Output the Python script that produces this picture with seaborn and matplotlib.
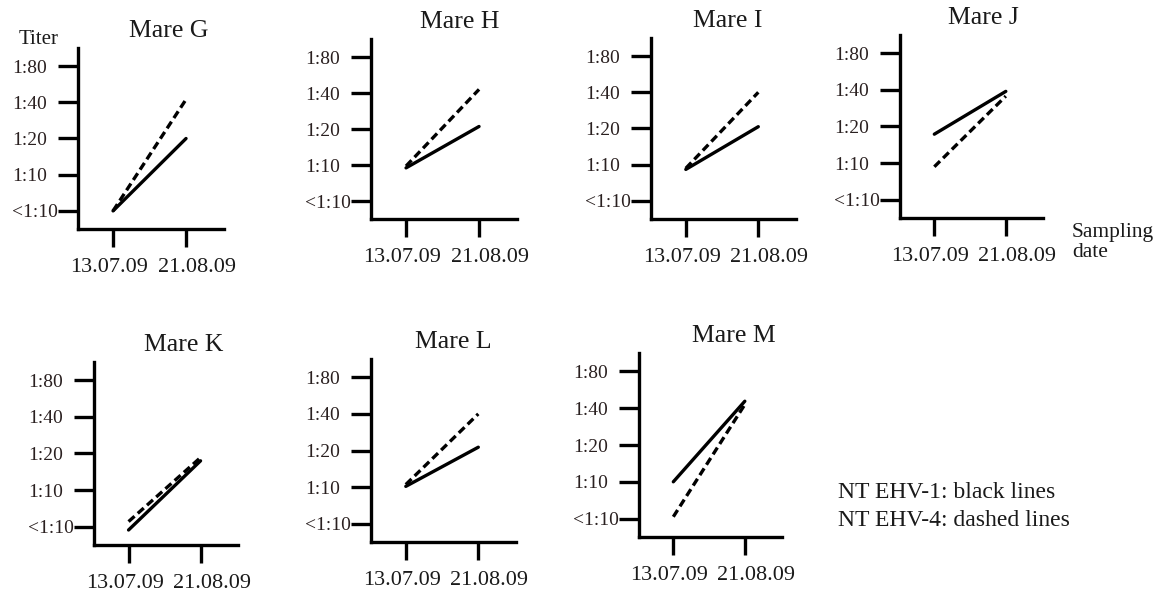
import matplotlib
matplotlib.use("Agg")
import matplotlib.pyplot as plt
import matplotlib.transforms as mtransforms
import seaborn as sns
import pandas as pd

# Neutralising antibody titres of seven mares at two sampling dates
mares = ["Mare G", "Mare H", "Mare I", "Mare J", "Mare K", "Mare L", "Mare M"]
dates = ["13.07.09", "21.08.09"]
titer_labels = ["<1:10", "1:10", "1:20", "1:40", "1:80"]

# titre level on the log2 scale (0 = <1:10, 1 = 1:10, ... 4 = 1:80)
ehv1_first = [0.0, 0.92, 0.87, 1.79, -0.09, 1.02, 1.0]
ehv1_second = [2.0, 2.07, 2.05, 2.96, 1.80, 2.09, 3.19]
ehv4_first = [0.0, 0.97, 0.90, 0.90, 0.14, 1.07, 0.05]
ehv4_second = [3.08, 3.10, 3.0, 2.83, 1.89, 3.0, 3.10]

legend_lines = ["NT EHV-1: black lines", "NT EHV-4: dashed lines"]

rows = []
for i, mare in enumerate(mares):
    for virus, first, second in (("EHV-1", ehv1_first, ehv1_second),
                                 ("EHV-4", ehv4_first, ehv4_second)):
        for d, val in zip(dates, (first[i], second[i])):
            rows.append({"mare": mare, "virus": virus, "date": d,
                         "pos": dates.index(d), "titer": val})
df = pd.DataFrame(rows)

sns.set_style("ticks")
plt.rcParams["font.family"] = ["Liberation Serif", "DejaVu Serif"]
plt.rcParams["text.color"] = "#1a1a1a"

W, H = 1160, 595
fig = plt.figure(figsize=(W / 100, H / 100), dpi=100)
fig.patch.set_facecolor("white")

# panel boxes in pixels: left, right, top, bottom
boxes = [(78, 224, 48, 229), (371, 517, 39, 219), (651, 796, 38, 219),
         (900, 1043, 35, 218), (94, 238, 362, 545), (371, 516, 359, 542),
         (639, 782, 353, 537)]
title_x = [0.62, 0.61, 0.53, 0.58, 0.62, 0.57, 0.66]
# horizontal nudge of the date labels (pixels)
date_shift = [-4, 11]

LW = 2.4
for i, mare in enumerate(mares):
    l, r, t, b = boxes[i]
    ax = fig.add_axes([l / W, 1 - b / H, (r - l) / W, (b - t) / H])
    sub = df[df["mare"] == mare]
    sns.lineplot(data=sub, x="pos", y="titer", style="virus",
                 style_order=["EHV-1", "EHV-4"],
                 dashes={"EHV-1": "", "EHV-4": (2.4, 1.3)},
                 color="black", linewidth=LW, legend=False, ax=ax,
                 estimator=None, sort=False)
    ax.set_xlim(-0.48, 1.52)
    ax.set_ylim(-0.5, 4.5)
    ax.set_xticks(range(len(dates)))
    ax.set_xticklabels(dates, fontsize=16)
    ax.set_yticks(range(len(titer_labels)))
    ax.set_yticklabels(titer_labels, fontsize=14, color="#2a2020",
                       ha="left")
    ax.set_xlabel("")
    ax.set_ylabel("")
    sns.despine(ax=ax)
    for side in ("left", "bottom"):
        ax.spines[side].set_linewidth(LW)
        ax.spines[side].set_color("black")
    ax.tick_params(axis="x", direction="out", length=13, width=LW,
                   pad=8, colors="black", labelcolor="#1a1a1a")
    ax.tick_params(axis="y", direction="out", length=14.5, width=LW,
                   pad=33, colors="black", labelcolor="#2a2020")
    for lab, dx in zip(ax.get_xticklabels(), date_shift):
        off = mtransforms.ScaledTranslation(dx / 100, 0, fig.dpi_scale_trans)
        lab.set_transform(lab.get_transform() + off)
    ax.set_facecolor("white")
    ax.text(title_x[i], 1.0 + 17 / (b - t), mare, transform=ax.transAxes,
            ha="center", va="center", fontsize=18.5)
    if i == 0:
        ax.text(-0.27, 1.0 + 9 / (b - t), "Titer", transform=ax.transAxes,
                ha="center", va="center", fontsize=15)
    if i == 3:
        ax.text(1.0 + 29 / (r - l), -0.027, "Sampling\ndate",
                transform=ax.transAxes, ha="left", va="top",
                fontsize=15.5, linespacing=1.07)

for k, line in enumerate(legend_lines):
    fig.text(838 / W, 1 - (492 + 29 * k) / H, line, ha="left",
             va="center", fontsize=17)

fig.savefig("out.png", dpi=100, facecolor="white")
